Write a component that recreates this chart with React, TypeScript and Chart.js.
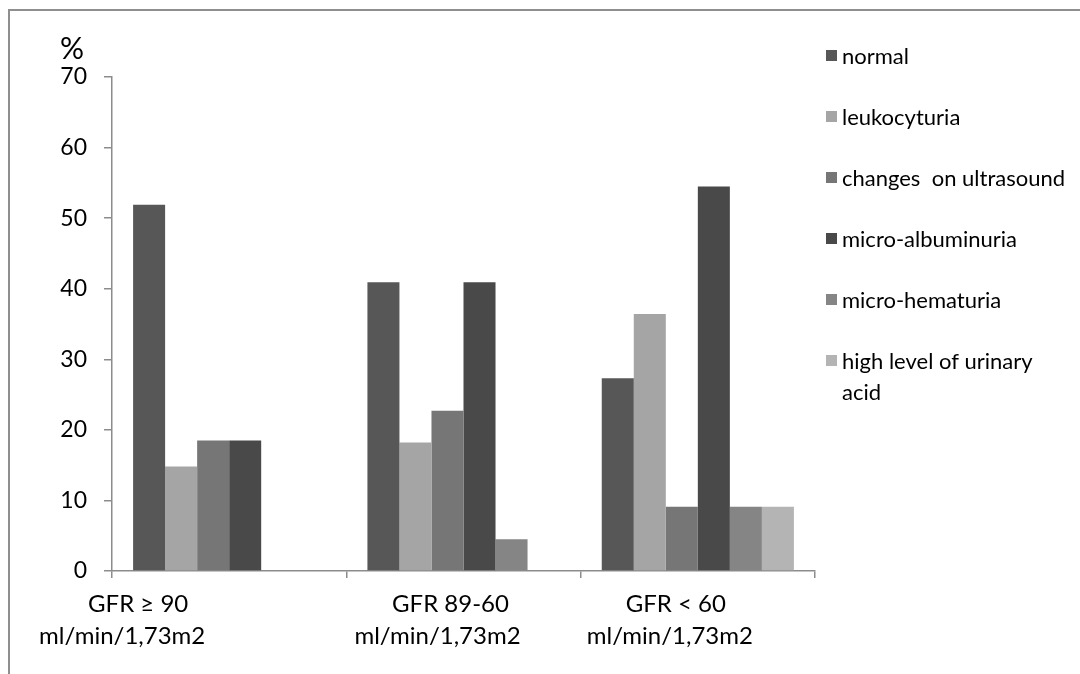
import React, { useEffect, useRef } from "react";
import { Chart, registerables } from "chart.js";

Chart.register(...registerables);

// Category labels (two lines each)
const categoryLine1 = ["GFR ≥ 90", "GFR 89-60", "GFR < 60"];
const categoryLine2 = ["ml/min/1,73m2", "ml/min/1,73m2", "ml/min/1,73m2"];

// Series names as shown in the legend
const seriesNames = [
  "normal",
  "leukocyturia",
  "changes  on ultrasound",
  "micro-albuminuria",
  "micro-hematuria",
  "high level of urinary acid",
];

// Percentages per GFR group
const normal = [51.9, 40.9, 27.3];
const leukocyturia = [14.8, 18.2, 36.4];
const ultrasoundChanges = [18.5, 22.7, 9.1];
const microAlbuminuria = [18.5, 40.9, 54.5];
const microHematuria = [0, 4.5, 9.1];
const uricAcid = [0, 0, 9.1];

const yTicks = [0, 10, 20, 30, 40, 50, 60, 70];

const seriesColors = ["#575757", "#a5a5a5", "#767676", "#494949", "#858585", "#b4b4b4"];

const FONT = 'Lato, "Open Sans", sans-serif';
const AXIS_GRAY = "#8c8c8c";

// horizontal shift of each category label line from its category centre
const line1Shift = [-91, -13, -22];
const line2Shift = [-107, -26, -28];

// legend wrapping
const legendLines: string[][] = [
  ["normal"],
  ["leukocyturia"],
  ["changes  on ultrasound"],
  ["micro-albuminuria"],
  ["micro-hematuria"],
  ["high level of urinary", "acid"],
];

const decorPlugin = {
  id: "decor",
  beforeDraw(chart: any) {
    const ctx = chart.ctx;
    ctx.save();
    ctx.fillStyle = "#ffffff";
    ctx.fillRect(0, 0, chart.width, chart.height);
    // frame (top and left edges)
    ctx.strokeStyle = "#8f8f8f";
    ctx.lineWidth = 2;
    ctx.beginPath();
    ctx.moveTo(9, chart.height);
    ctx.lineTo(9, 10);
    ctx.lineTo(chart.width, 10);
    ctx.stroke();
    ctx.restore();
  },
  afterDraw(chart: any) {
    const ctx = chart.ctx;
    const area = chart.chartArea;
    const xScale = chart.scales.x;
    ctx.save();
    ctx.fillStyle = "#000000";
    // axis unit
    ctx.font = `30px ${FONT}`;
    ctx.textAlign = "center";
    ctx.textBaseline = "middle";
    ctx.fillText("%", area.left - 40, area.top - 28);

    // category labels
    ctx.font = `24px ${FONT}`;
    categoryLine1.forEach((t, i) => {
      const cx = xScale.getPixelForValue(i);
      ctx.fillText(t, cx + line1Shift[i], area.bottom + 33);
      ctx.fillText(categoryLine2[i], cx + line2Shift[i], area.bottom + 65);
    });

    // legend
    ctx.font = `22px ${FONT}`;
    ctx.textAlign = "left";
    const lx = area.right + 11;
    let y = 56;
    chart.data.datasets.forEach((ds: any, i: number) => {
      ctx.fillStyle = ds.backgroundColor;
      ctx.fillRect(lx, y - 6, 11, 11);
      ctx.fillStyle = "#000000";
      legendLines[i].forEach((line, j) => {
        ctx.fillText(line, lx + 16, y + 1 + j * 31);
      });
      y += 61;
    });
    ctx.restore();
  },
};

export default function App() {
  const canvasRef = useRef<HTMLCanvasElement | null>(null);

  useEffect(() => {
    const canvas = canvasRef.current;
    if (!canvas) return;
    const seriesData = [normal, leukocyturia, ultrasoundChanges, microAlbuminuria, microHematuria, uricAcid];
    const chart = new Chart(canvas, {
      type: "bar",
      data: {
        labels: categoryLine1,
        datasets: seriesNames.map((name, i) => ({
          label: name,
          data: seriesData[i],
          backgroundColor: seriesColors[i],
          borderWidth: 0,
          barPercentage: 1,
          categoryPercentage: 0.82,
        })),
      },
      options: {
        responsive: false,
        animation: false,
        layout: { padding: { left: 0, right: 265, top: 77, bottom: 0 } },
        plugins: {
          legend: { display: false },
          tooltip: { enabled: false },
        },
        scales: {
          x: {
            type: "category",
            offset: true,
            grid: {
              offset: true,
              drawOnChartArea: false,
              drawTicks: true,
              tickLength: 7,
              color: AXIS_GRAY,
              lineWidth: 1.5,
            },
            border: { color: AXIS_GRAY, width: 1.5 },
            ticks: { display: false },
            afterFit: (s: any) => {
              s.height = 103;
            },
          },
          y: {
            min: 0,
            max: 70,
            afterBuildTicks: (s: any) => {
              s.ticks = yTicks.map((v) => ({ value: v }));
            },
            grid: {
              drawOnChartArea: false,
              drawTicks: true,
              tickLength: 8,
              color: AXIS_GRAY,
              lineWidth: 1.5,
            },
            border: { color: AXIS_GRAY, width: 1.5 },
            ticks: {
              color: "#000000",
              padding: 17,
              font: { family: FONT, size: 23 },
            },
            afterFit: (s: any) => {
              s.width = 112;
            },
          },
        },
      },
      plugins: [decorPlugin],
    });
    return () => chart.destroy();
  }, []);

  return (
    <div style={{ position: "fixed", left: 0, top: 0, width: 1080, height: 674, background: "#fff" }}>
      <canvas ref={canvasRef} width={1080} height={674} style={{ display: "block" }} />
    </div>
  );
}
